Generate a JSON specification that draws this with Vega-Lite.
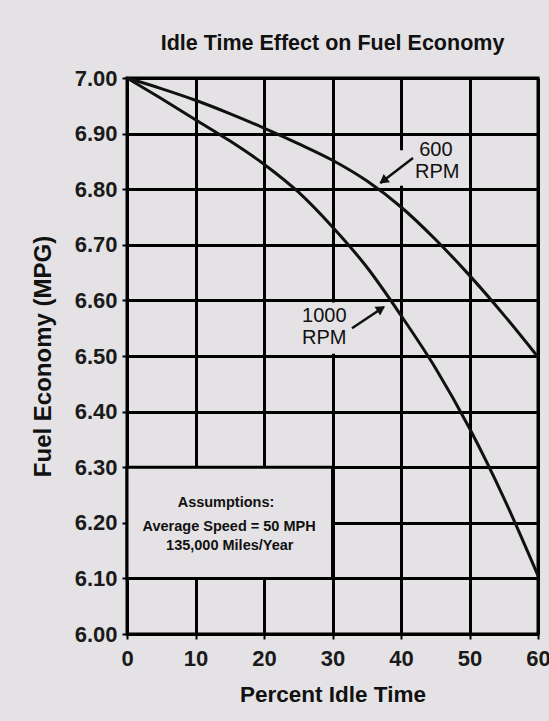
{
  "$schema": "https://vega.github.io/schema/vega-lite/v6.json",
  "autosize": {"type": "none"},
  "width": 411,
  "height": 556,
  "padding": {"left": 127, "top": 78, "right": 11, "bottom": 87},
  "background": "#e4e2e4",
  "title": {
    "text": "Idle Time Effect on Fuel Economy",
    "font": "Liberation Sans",
    "fontSize": 21.5,
    "fontWeight": "bold",
    "color": "#111111",
    "anchor": "middle",
    "baseline": "alphabetic",
    "offset": -4
  },
  "config": {
    "view": {"stroke": "#000000", "strokeWidth": 3, "fill": "#e4e2e4"},
    "font": "Liberation Sans"
  },
  "datasets": {
    "curves": [
      {"series": "600 RPM", "x": 0, "y": 7.0},
      {"series": "600 RPM", "x": 5, "y": 6.981},
      {"series": "600 RPM", "x": 10, "y": 6.96},
      {"series": "600 RPM", "x": 15, "y": 6.936},
      {"series": "600 RPM", "x": 20, "y": 6.91},
      {"series": "600 RPM", "x": 25, "y": 6.882},
      {"series": "600 RPM", "x": 30, "y": 6.852},
      {"series": "600 RPM", "x": 35, "y": 6.815},
      {"series": "600 RPM", "x": 40, "y": 6.768},
      {"series": "600 RPM", "x": 45, "y": 6.71},
      {"series": "600 RPM", "x": 50, "y": 6.645},
      {"series": "600 RPM", "x": 55, "y": 6.574},
      {"series": "600 RPM", "x": 60, "y": 6.498},
      {"series": "1000 RPM", "x": 0, "y": 7.0},
      {"series": "1000 RPM", "x": 5, "y": 6.963},
      {"series": "1000 RPM", "x": 10, "y": 6.925},
      {"series": "1000 RPM", "x": 15, "y": 6.887},
      {"series": "1000 RPM", "x": 20, "y": 6.845},
      {"series": "1000 RPM", "x": 25, "y": 6.795},
      {"series": "1000 RPM", "x": 30, "y": 6.732},
      {"series": "1000 RPM", "x": 35, "y": 6.66},
      {"series": "1000 RPM", "x": 40, "y": 6.573},
      {"series": "1000 RPM", "x": 45, "y": 6.479},
      {"series": "1000 RPM", "x": 50, "y": 6.37},
      {"series": "1000 RPM", "x": 55, "y": 6.245},
      {"series": "1000 RPM", "x": 60, "y": 6.105}
    ],
    "assumptionBox": [{"x": 0, "x2": 30, "y": 6.1, "y2": 6.3}],
    "labelBoxes": [
      {"x": 39.0, "x2": 49.6, "y": 6.806, "y2": 6.87},
      {"x": 25.0, "x2": 32.8, "y": 6.504, "y2": 6.596}
    ],
    "curveLabels": [
      {"x": 45.1, "y": 6.87, "text": "600"},
      {"x": 45.3, "y": 6.831, "text": "RPM"},
      {"x": 28.8, "y": 6.572, "text": "1000"},
      {"x": 28.8, "y": 6.532, "text": "RPM"}
    ],
    "arrows": [
      {"x": 41.75, "y": 6.856, "x2": 37.0, "y2": 6.811},
      {"x": 32.85, "y": 6.55, "x2": 37.5, "y2": 6.588}
    ],
    "arrowHeadsA": [{"x": 37.4, "y": 6.815}],
    "arrowHeadsB": [{"x": 37.1, "y": 6.585}],
    "notes": [
      {"x": 14.45, "y": 6.235, "text": "Assumptions:"},
      {"x": 14.9, "y": 6.192, "text": "Average Speed = 50 MPH"},
      {"x": 15.0, "y": 6.158, "text": "135,000 Miles/Year"}
    ]
  },
  "encoding": {
    "x": {
      "field": "x",
      "type": "quantitative",
      "scale": {"domain": [0, 60], "nice": false, "zero": false},
      "axis": {
        "values": [0, 10, 20, 30, 40, 50, 60],
        "grid": true,
        "gridColor": "#000000",
        "gridWidth": 3,
        "gridOpacity": 1,
        "domainColor": "#000000",
        "domainWidth": 3,
        "tickColor": "#000000",
        "tickSize": 5,
        "tickWidth": 2,
        "labelFont": "Liberation Sans",
        "labelFontSize": 22,
        "labelFontWeight": "bold",
        "labelColor": "#1a1a1a",
        "labelPadding": 9,
        "labelFlush": false,
        "title": "Percent Idle Time",
        "titleFont": "Liberation Sans",
        "titleFontSize": 22.5,
        "titleFontWeight": "bold",
        "titleColor": "#111111",
        "titleY": 60,
        "titleBaseline": "middle"
      }
    },
    "y": {
      "field": "y",
      "type": "quantitative",
      "scale": {"domain": [6.0, 7.0], "nice": false, "zero": false},
      "axis": {
        "values": [6.0, 6.1, 6.2, 6.3, 6.4, 6.5, 6.6, 6.7, 6.8, 6.9, 7.0],
        "format": ".2f",
        "grid": true,
        "gridColor": "#000000",
        "gridWidth": 3,
        "gridOpacity": 1,
        "domainColor": "#000000",
        "domainWidth": 3,
        "tickColor": "#000000",
        "tickSize": 5,
        "tickWidth": 2,
        "labelFont": "Liberation Sans",
        "labelFontSize": 22,
        "labelFontWeight": "bold",
        "labelColor": "#1a1a1a",
        "labelPadding": 5,
        "labelFlush": false,
        "title": "Fuel Economy (MPG)",
        "titleFont": "Liberation Sans",
        "titleFontSize": 24,
        "titleFontWeight": "bold",
        "titleColor": "#111111",
        "titleAngle": -90,
        "titleX": -84,
        "titleY": 278,
        "titleBaseline": "middle",
        "titleAlign": "center"
      }
    }
  },
  "layer": [
    {
      "data": {"name": "assumptionBox"},
      "mark": {"type": "rect", "fill": "#e4e2e4", "stroke": "#000000", "strokeWidth": 3},
      "encoding": {"x2": {"field": "x2"}, "y2": {"field": "y2"}}
    },
    {
      "data": {"name": "labelBoxes"},
      "mark": {"type": "rect", "fill": "#e4e2e4", "strokeWidth": 0},
      "encoding": {"x2": {"field": "x2"}, "y2": {"field": "y2"}}
    },
    {
      "data": {"name": "curves"},
      "mark": {"type": "line", "interpolate": "monotone", "color": "#111111", "strokeWidth": 3},
      "encoding": {"detail": {"field": "series", "type": "nominal"}}
    },
    {
      "data": {"name": "arrows"},
      "mark": {"type": "rule", "color": "#111111", "strokeWidth": 2.5},
      "encoding": {"x2": {"field": "x2"}, "y2": {"field": "y2"}}
    },
    {
      "data": {"name": "arrowHeadsA"},
      "mark": {"type": "point", "shape": "triangle-up", "filled": true, "color": "#111111", "size": 110, "angle": 233, "opacity": 1},
      "encoding": {}
    },
    {
      "data": {"name": "arrowHeadsB"},
      "mark": {"type": "point", "shape": "triangle-up", "filled": true, "color": "#111111", "size": 110, "angle": 57, "opacity": 1},
      "encoding": {}
    },
    {
      "data": {"name": "curveLabels"},
      "mark": {"type": "text", "font": "Liberation Sans", "fontSize": 20, "color": "#111111", "align": "center", "baseline": "middle"},
      "encoding": {"text": {"field": "text"}}
    },
    {
      "data": {"name": "notes"},
      "mark": {"type": "text", "font": "Liberation Sans", "fontSize": 14.5, "fontWeight": "bold", "color": "#111111", "align": "center", "baseline": "middle"},
      "encoding": {"text": {"field": "text"}}
    }
  ]
}
